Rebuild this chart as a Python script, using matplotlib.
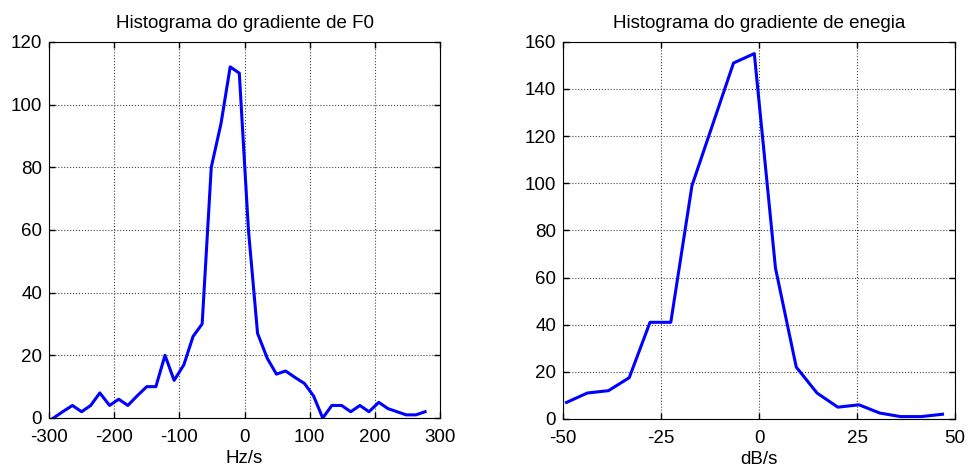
import matplotlib
matplotlib.use("Agg")
import matplotlib.pyplot as plt

plt.rcParams["font.family"] = ["Liberation Sans", "DejaVu Sans"]
plt.rcParams["axes.unicode_minus"] = False

# histogram of F0 gradient (bin centres in Hz/s, counts)
f0_centres = [-293, -279, -264, -250, -236, -222, -207, -193, -179, -165,
              -150, -136, -122, -108, -93, -79, -65, -51, -36, -22,
              -8, 6, 20, 35, 49, 63, 77, 92, 106, 120,
              134, 149, 163, 177, 191, 206, 220, 234, 248, 263, 277]
f0_counts = [0, 2, 4, 2, 4, 8, 4, 6, 4, 7,
             10, 10, 20, 12, 17, 26, 30, 80, 94, 112,
             110, 60, 27, 19, 14, 15, 13, 11, 7, 0,
             4, 4, 2, 4, 2, 5, 3, 2, 1, 1, 2]

# histogram of energy gradient (bin centres in dB/s, counts)
en_centres = [-49.1, -43.8, -38.4, -33.1, -27.8, -22.5, -17.1, -11.8, -6.5, -1.2,
              4.2, 9.5, 14.8, 20.1, 25.5, 30.8, 36.1, 41.4, 46.8]
en_counts = [7, 11, 12, 17.5, 41, 41, 99, 125, 151, 155,
             64, 22, 11, 5, 6, 2.5, 1, 1, 2]

FS = 13.5


def style_axes(ax):
    ax.grid(True, color="#444444", linestyle=":", linewidth=0.8)
    ax.tick_params(direction="in", top=True, right=True, labelsize=FS,
                   length=4, width=1)
    ax.tick_params(axis="x", pad=8)
    ax.tick_params(axis="y", pad=5)
    for s in ax.spines.values():
        s.set_linewidth(0.8)


fig = plt.figure(figsize=(9.68, 4.75), dpi=100)

ax1 = fig.add_axes([0.0506, 0.12, 0.404, 0.792])
ax1.plot(f0_centres, f0_counts, color="#0000ff", linewidth=2.2)
ax1.set_xlim(-300, 300)
ax1.set_ylim(0, 120)
ax1.set_xticks(range(-300, 301, 100))
ax1.set_yticks(range(0, 121, 20))
ax1.set_title("Histograma do gradiente de F0", fontsize=FS, pad=10)
ax1.set_xlabel("Hz/s", fontsize=FS, labelpad=3)
style_axes(ax1)

ax2 = fig.add_axes([0.5816, 0.118, 0.405, 0.794])
ax2.plot(en_centres, en_counts, color="#0000ff", linewidth=2.2)
ax2.set_xlim(-50, 50)
ax2.set_ylim(0, 160)
ax2.set_xticks([-50, -25, 0, 25, 50])
ax2.set_yticks(range(0, 161, 20))
ax2.set_title("Histograma do gradiente de enegia", fontsize=FS, pad=10)
ax2.set_xlabel("dB/s", fontsize=FS, labelpad=3)
style_axes(ax2)

fig.savefig("out.png", dpi=100)
